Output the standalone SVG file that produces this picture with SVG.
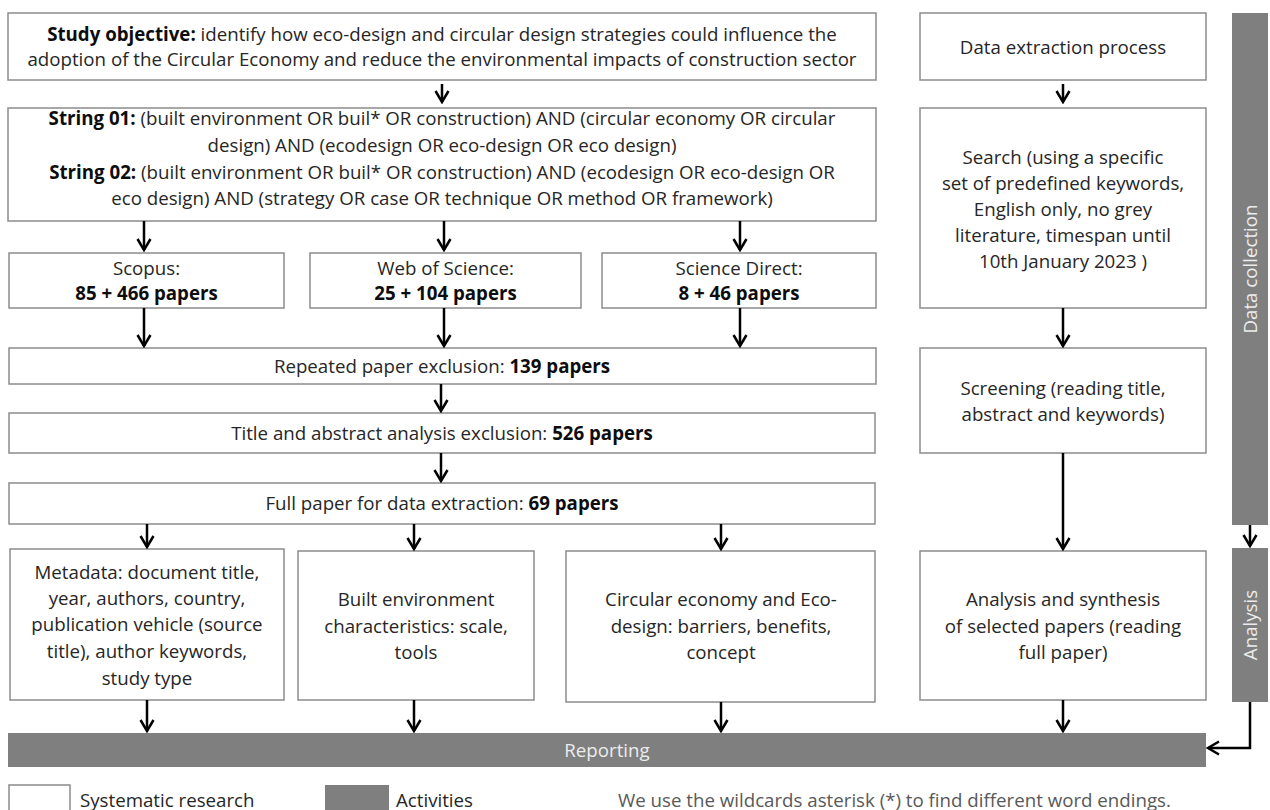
<svg xmlns="http://www.w3.org/2000/svg" width="1270" height="810" viewBox="0 0 1270 810">
<defs>
<marker id="ah" viewBox="-14 -9 16 18" refX="0" refY="0" markerWidth="16" markerHeight="18" markerUnits="userSpaceOnUse" orient="auto">
<path d="M-11,-6.5 L0,0 L-11,6.5" fill="none" stroke="#000" stroke-width="2.5" stroke-linejoin="miter"/>
</marker>
</defs>
<style>
.box{fill:#fff;stroke:#8c8c8c;stroke-width:1.5}
.bar{fill:#7f7f7f}
text{font-family:"Open Sans","Noto Sans","DejaVu Sans",sans-serif;font-size:18.7px;fill:#262626}
.c{text-anchor:middle}
.b{font-weight:bold;fill:#0d0d0d}
.w{fill:#ececec}
.g{fill:#595959}
.con{fill:none;stroke:#000;stroke-width:2.5;marker-end:url(#ah)}
</style>
<rect width="1270" height="810" fill="#fff"/>

<g id="objective">
<rect class="box" x="8" y="13" width="868" height="67"/>
<text class="c" x="442" y="40.5"><tspan class="b">Study objective:</tspan> identify how eco-design and circular design strategies could influence the</text>
<text class="c" x="442" y="65.5">adoption of the Circular Economy and reduce the environmental impacts of construction sector</text>
</g>

<g id="strings">
<rect class="box" x="8" y="108" width="868" height="113"/>
<text class="c" x="442" y="125"><tspan class="b">String 01:</tspan> (built environment OR buil* OR construction) AND (circular economy OR circular</text>
<text class="c" x="442" y="152">design) AND (ecodesign OR eco-design OR eco design)</text>
<text class="c" x="442" y="179"><tspan class="b">String 02:</tspan> (built environment OR buil* OR construction) AND (ecodesign OR eco-design OR</text>
<text class="c" x="442" y="205">eco design) AND (strategy OR case OR technique OR method OR framework)</text>
</g>

<g id="scopus">
<rect class="box" x="9" y="253" width="275" height="55"/>
<text class="c" x="146.5" y="275">Scopus:</text>
<text class="c b" x="146.5" y="300">85 + 466 papers</text>
</g>
<g id="wos">
<rect class="box" x="310" y="253" width="271" height="55"/>
<text class="c" x="445.5" y="275">Web of Science:</text>
<text class="c b" x="445.5" y="300">25 + 104 papers</text>
</g>
<g id="sciencedirect">
<rect class="box" x="602" y="253" width="274" height="55"/>
<text class="c" x="739" y="275">Science Direct:</text>
<text class="c b" x="739" y="300">8 + 46 papers</text>
</g>

<g id="repeated">
<rect class="box" x="9" y="348" width="867" height="36"/>
<text class="c" x="442" y="373">Repeated paper exclusion: <tspan class="b">139 papers</tspan></text>
</g>
<g id="title-abstract">
<rect class="box" x="9" y="413" width="866" height="40"/>
<text class="c" x="442" y="440">Title and abstract analysis exclusion: <tspan class="b">526 papers</tspan></text>
</g>
<g id="full-paper">
<rect class="box" x="9" y="483" width="866" height="41"/>
<text class="c" x="442" y="510">Full paper for data extraction: <tspan class="b">69 papers</tspan></text>
</g>

<g id="metadata">
<rect class="box" x="10" y="549" width="274" height="151"/>
<text class="c" x="147" y="579">Metadata: document title,</text>
<text class="c" x="147" y="605">year, authors, country,</text>
<text class="c" x="147" y="631">publication vehicle (source</text>
<text class="c" x="147" y="658">title), author keywords,</text>
<text class="c" x="147" y="685">study type</text>
</g>
<g id="built-environment">
<rect class="box" x="298" y="551" width="236" height="149"/>
<text class="c" x="416" y="606">Built environment</text>
<text class="c" x="416" y="633">characteristics: scale,</text>
<text class="c" x="416" y="659">tools</text>
</g>
<g id="circular-economy">
<rect class="box" x="566" y="551" width="309" height="151"/>
<text class="c" x="721" y="606">Circular economy and Eco-</text>
<text class="c" x="721" y="633">design: barriers, benefits,</text>
<text class="c" x="721" y="659">concept</text>
</g>

<g id="data-extraction">
<rect class="box" x="920" y="13" width="286" height="67"/>
<text class="c" x="1063" y="54">Data extraction process</text>
</g>
<g id="search">
<rect class="box" x="920" y="108" width="286" height="200"/>
<text class="c" x="1063" y="164">Search (using a specific</text>
<text class="c" x="1063" y="190">set of predefined keywords,</text>
<text class="c" x="1063" y="216">English only, no grey</text>
<text class="c" x="1063" y="242">literature, timespan until</text>
<text class="c" x="1063" y="268">10th January 2023 )</text>
</g>
<g id="screening">
<rect class="box" x="920" y="348" width="286" height="105"/>
<text class="c" x="1063" y="395">Screening (reading title,</text>
<text class="c" x="1063" y="421">abstract and keywords)</text>
</g>
<g id="analysis-synthesis">
<rect class="box" x="920" y="551" width="286" height="149"/>
<text class="c" x="1063" y="606">Analysis and synthesis</text>
<text class="c" x="1063" y="633">of selected papers (reading</text>
<text class="c" x="1063" y="659">full paper)</text>
</g>

<g id="reporting">
<rect class="bar" x="8" y="733" width="1198" height="34"/>
<text class="c w" x="607" y="757">Reporting</text>
</g>
<g id="data-collection">
<rect class="bar" x="1232" y="13" width="36" height="512"/>
<text class="c w" transform="translate(1257 269) rotate(-90)">Data collection</text>
</g>
<g id="analysis">
<rect class="bar" x="1232" y="548" width="36" height="154"/>
<text class="c w" transform="translate(1257 625) rotate(-90)">Analysis</text>
</g>

<g id="connectors">
<path class="con" d="M442,84 V102"/>
<path class="con" d="M1063,84 V102"/>
<path class="con" d="M144,221 V250"/>
<path class="con" d="M444,221 V250"/>
<path class="con" d="M740,221 V250"/>
<path class="con" d="M144,308 V346"/>
<path class="con" d="M444,308 V346"/>
<path class="con" d="M740,308 V346"/>
<path class="con" d="M441,384 V411"/>
<path class="con" d="M441,453 V481"/>
<path class="con" d="M147,524 V547"/>
<path class="con" d="M414,524 V549"/>
<path class="con" d="M721,524 V549"/>
<path class="con" d="M1063,308 V346"/>
<path class="con" d="M1063,453 V549"/>
<path class="con" d="M147,700 V731"/>
<path class="con" d="M414,700 V731"/>
<path class="con" d="M721,702 V731"/>
<path class="con" d="M1063,700 V731"/>
<path class="con" d="M1250,525 V546"/>
<path class="con" d="M1250,702 V748 H1208"/>
</g>

<g id="legend">
<rect class="box" x="9" y="785" width="61" height="30"/>
<text x="80" y="807">Systematic research</text>
<rect class="bar" x="325" y="785" width="64" height="30"/>
<text x="396" y="807">Activities</text>
<text class="g" x="618" y="807">We use the wildcards asterisk (*) to find different word endings.</text>
</g>
</svg>
